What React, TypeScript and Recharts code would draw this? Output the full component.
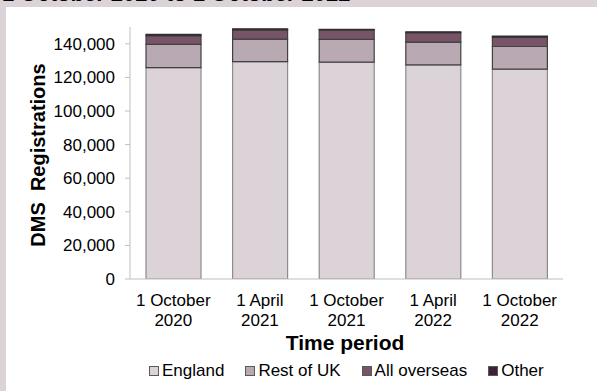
import { BarChart, Bar, XAxis, YAxis } from "recharts";

const periods = [
  "1 October 2020",
  "1 April 2021",
  "1 October 2021",
  "1 April 2022",
  "1 October 2022",
];
const england = [125800, 129400, 129100, 127500, 124900];
const restOfUk = [13800, 13400, 13500, 13500, 13500];
const allOverseas = [5200, 5500, 5600, 5700, 5600];
const other = [800, 600, 400, 400, 600];
const yTicks = [0, 20000, 40000, 60000, 80000, 100000, 120000, 140000];

const data = periods.map((name, i) => ({
  name,
  england: england[i],
  restOfUk: restOfUk[i],
  allOverseas: allOverseas[i],
  other: other[i],
}));

const FONT = "'Liberation Sans', Arial, sans-serif";

const series = [
  { key: "england", label: "England", fill: "#dbd3d8", stroke: "#8c8c8c" },
  { key: "restOfUk", label: "Rest of UK", fill: "#b9a9b3", stroke: "#404040" },
  { key: "allOverseas", label: "All overseas", fill: "#775468", stroke: "#404040" },
  { key: "other", label: "Other", fill: "#3d2233", stroke: "#303030" },
];

function PeriodTick(props: any) {
  const { x, y, payload } = props;
  const text: string = payload.value;
  const cut = text.lastIndexOf(" ");
  return (
    <text x={x} y={y} textAnchor="middle" fill="#000" fontSize={17} fontFamily={FONT}>
      <tspan x={x} dy={27}>{text.slice(0, cut)}</tspan>
      <tspan x={x} dy={19.5}>{text.slice(cut + 1)}</tspan>
    </text>
  );
}

function LegendBox() {
  return (
    <div
      style={{
        position: "absolute",
        left: 149,
        top: 361,
        display: "flex",
        gap: 21,
        fontSize: 17,
        lineHeight: "20px",
        color: "#000",
        whiteSpace: "nowrap",
      }}
    >
      {series.map((s) => (
        <div key={s.key} style={{ display: "flex", alignItems: "center", gap: 3 }}>
          <span
            style={{
              width: 8,
              height: 8,
              background: s.fill,
              border: "1px solid #595959",
              display: "inline-block",
            }}
          />
          <span>{s.label}</span>
        </div>
      ))}
    </div>
  );
}

export default function App() {
  return (
    <div
      style={{
        position: "absolute",
        left: 0,
        top: 0,
        width: 597,
        height: 391,
        overflow: "hidden",
        background: "#dcd3d9",
        fontFamily: FONT,
      }}
    >
      <div
        style={{
          position: "absolute",
          left: 2,
          top: -17,
          fontSize: 22,
          lineHeight: "22px",
          fontWeight: "bold",
          whiteSpace: "nowrap",
          color: "#000",
        }}
      >
        1 October 2020 to 1 October 2022
      </div>
      <div style={{ position: "absolute", left: 6, top: 7, right: 0, bottom: 0, background: "#fff" }} />
      <div style={{ position: "absolute", left: 0, top: 0 }}>
        <BarChart
          width={597}
          height={391}
          data={data}
          margin={{ top: 27, right: 34, left: 0, bottom: 82 }}
          barSize={55}
        >
          <XAxis
            dataKey="name"
            height={30}
            axisLine={{ stroke: "#bfbfbf" }}
            tickLine={false}
            tickSize={0}
            tickMargin={0}
            interval={0}
            tick={<PeriodTick />}
          />
          <YAxis
            width={130}
            domain={[0, 150000]}
            ticks={yTicks}
            allowDataOverflow
            axisLine={{ stroke: "#bfbfbf" }}
            tickLine={{ stroke: "#bfbfbf" }}
            tickSize={5}
            tickMargin={10}
            tick={{ fill: "#000", fontSize: 17, fontFamily: FONT }}
            tickFormatter={(v: number) => v.toLocaleString("en-GB")}
          />
          {series.map((s) => (
            <Bar
              key={s.key}
              dataKey={s.key}
              name={s.label}
              stackId="a"
              fill={s.fill}
              stroke={s.stroke}
              strokeWidth={1.2}
              isAnimationActive={false}
            />
          ))}
        </BarChart>
      </div>
      <LegendBox />
      <div
        style={{
          position: "absolute",
          left: 38,
          top: 155,
          transform: "translate(-50%, -50%) rotate(-90deg)",
          fontSize: 20,
          fontWeight: "bold",
          whiteSpace: "pre",
          color: "#000",
        }}
      >
        DMS  Registrations
      </div>
      <div
        style={{
          position: "absolute",
          left: 345,
          top: 343,
          transform: "translate(-50%, -50%)",
          fontSize: 21,
          fontWeight: "bold",
          whiteSpace: "nowrap",
          color: "#000",
        }}
      >
        Time period
      </div>
    </div>
  );
}
